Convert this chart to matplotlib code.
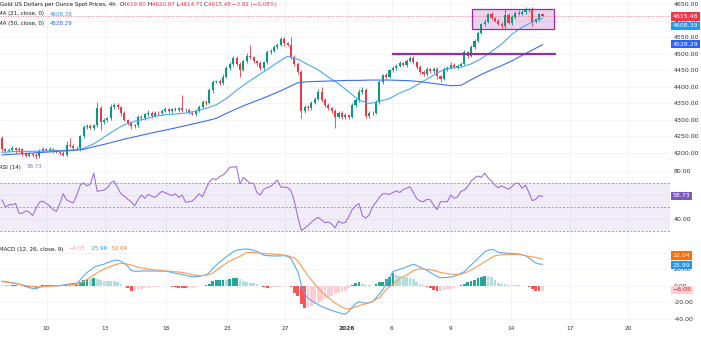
import numpy as np
import matplotlib
matplotlib.use("Agg")
import matplotlib.pyplot as plt
from matplotlib.patches import Rectangle

W, H = 701, 337

# ---- 4h candles (bar 0 = first visible candle) ----
first_open = 4244.0
closes = [4212, 4206, 4210, 4214, 4208, 4212, 4196, 4192, 4198, 4195,
          4190, 4206, 4212, 4208, 4211, 4206, 4204, 4199, 4195, 4225,
          4222, 4216, 4214, 4250, 4278, 4282, 4276, 4285, 4335, 4295,
          4300, 4305, 4340, 4345, 4338, 4320, 4300, 4290, 4282, 4285,
          4310, 4305, 4318, 4322, 4312, 4322, 4320, 4328, 4332, 4326,
          4332, 4330, 4336, 4330, 4331, 4322, 4318, 4328, 4340, 4355,
          4352, 4390, 4415, 4418, 4412, 4430, 4458, 4470, 4488, 4470,
          4452, 4478, 4495, 4490, 4478, 4472, 4458, 4475, 4505, 4510,
          4520, 4528, 4545, 4532, 4528, 4492, 4470, 4445, 4328, 4340,
          4335, 4352, 4365, 4385, 4362, 4345, 4335, 4328, 4310, 4322,
          4308, 4315, 4310, 4345, 4360, 4385, 4392, 4312, 4320, 4322,
          4355, 4415, 4435, 4430, 4450, 4458, 4465, 4472, 4468, 4480,
          4488, 4475, 4462, 4445, 4438, 4455, 4448, 4455, 4432, 4425,
          4455, 4458, 4468, 4462, 4465, 4470, 4505, 4495, 4520, 4540,
          4565, 4590, 4598, 4620, 4608, 4600, 4592, 4584, 4618, 4595,
          4612, 4625, 4622, 4628, 4632, 4635, 4598, 4605, 4619.80, 4615.48]
up_wick = [6, 4, 5, 7, 3, 5, 4, 6, 5, 3,
           4, 6, 5, 3, 7, 4, 5, 3, 6, 12,
           20, 5, 4, 6, 8, 5, 6, 4, 20, 6,
           5, 4, 7, 6, 5, 4, 6, 3, 5, 4,
           6, 5, 4, 7, 5, 6, 4, 5, 7, 4,
           5, 6, 4, 39, 5, 4, 6, 5, 4, 6,
           5, 7, 6, 4, 5, 8, 6, 5, 7, 6,
           5, 6, 8, 32, 5, 4, 6, 5, 7, 5,
           6, 5, 7, 6, 5, 22, 6, 5, 8, 6,
           5, 7, 6, 8, 15, 5, 6, 4, 5, 6,
           5, 6, 4, 7, 6, 8, 8, 5, 6, 4,
           6, 7, 5, 6, 5, 7, 4, 6, 5, 6,
           6, 5, 4, 6, 5, 7, 4, 5, 6, 4,
           6, 5, 7, 4, 5, 6, 7, 5, 6, 5,
           6, 5, 7, 5, 6, 4, 5, 6, 18, 5,
           6, 5, 7, 4, 10, 3, 6, 5, 4, 1.07]
lo_wick = [5, 6, 4, 5, 7, 4, 6, 5, 4, 6,
           8, 5, 4, 6, 5, 7, 4, 6, 5, 4,
           5, 6, 4, 7, 5, 6, 4, 5, 6, 25,
           6, 5, 4, 6, 5, 7, 4, 6, 8, 5,
           5, 6, 4, 5, 7, 4, 6, 5, 4, 6,
           5, 4, 6, 5, 7, 5, 4, 6, 5, 4,
           6, 5, 7, 4, 6, 5, 4, 6, 5, 7,
           22, 5, 6, 4, 5, 7, 6, 5, 4, 6,
           5, 6, 4, 7, 5, 6, 5, 7, 22, 6,
           5, 6, 4, 5, 6, 7, 5, 6, 34, 5,
           6, 5, 7, 4, 5, 6, 5, 5, 6, 5,
           4, 6, 5, 7, 4, 5, 6, 5, 4, 6,
           5, 6, 7, 5, 4, 6, 5, 6, 7, 10,
           5, 6, 4, 5, 6, 5, 4, 6, 5, 4,
           5, 4, 6, 5, 6, 4, 5, 6, 5, 4,
           6, 5, 4, 5, 6, 5, 13, 5, 4, 0.77]

# moving averages, one reading every 3 bars
ma_every = 3
ma21 = [4202, 4204, 4205, 4205, 4206, 4207, 4208, 4209, 4214, 4228,
        4248, 4268, 4286, 4296, 4303, 4311, 4316, 4318, 4321, 4327,
        4335, 4346, 4365, 4390, 4412, 4433, 4453, 4474, 4493, 4484,
        4468, 4452, 4430, 4410, 4385, 4360, 4350, 4356, 4365, 4382,
        4394, 4412, 4430, 4448, 4457, 4460, 4470, 4486, 4508, 4530,
        4560, 4581, 4597, 4608.39]
ma50 = [4194, 4196, 4198, 4200, 4202, 4204, 4206, 4208, 4211, 4219,
        4226, 4234, 4242, 4249, 4256, 4263, 4269, 4276, 4283, 4290,
        4297, 4305, 4320, 4334, 4347, 4359, 4371, 4384, 4398, 4413,
        4416, 4417, 4418, 4419, 4420, 4420, 4421, 4421, 4421, 4420,
        4419, 4416, 4412, 4408, 4404, 4405, 4422, 4438, 4452, 4465,
        4479, 4496, 4512, 4528.29]

rsi = [56, 50, 52, 52, 53, 45, 45, 47, 46, 43,
       49, 54, 55, 53, 51, 48, 46.5, 53, 61, 56,
       54.5, 53.5, 60, 68, 70, 67.5, 69, 78, 63, 63.5,
       64, 66, 70, 71.5, 66, 61, 59, 56.5, 54.5, 51,
       56, 60, 57.3, 60.5, 59, 58, 60.5, 63, 62, 60.5,
       59.5, 61, 58, 60, 54, 54.5, 55, 58, 61, 58.5,
       65, 71, 73.5, 72.5, 75, 76.5, 79, 82.8, 83, 83.3,
       69, 74.5, 72, 69.5, 69.6, 62, 60, 64.7, 66, 67,
       69.5, 72.3, 66.5, 66.3, 66.3, 63.5, 55, 42, 31, 32.5,
       35, 37.5, 40, 41.6, 39.5, 37.2, 37.8, 36, 33, 38.5,
       36.8, 37.5, 42, 48, 51, 53, 43, 41, 43.5, 50.4,
       54, 58, 61, 61, 60.6, 62, 63.5, 62, 64.5, 65.5,
       66.8, 62, 57, 55, 54.5, 56.5, 56, 51.5, 48, 54.5,
       54.5, 54.5, 60, 57.3, 58.5, 63, 64, 67, 71.5, 74,
       75.6, 74.5, 77.9, 74, 71.5, 68, 66, 67.5, 66, 64.7,
       67, 69.6, 69.6, 65.5, 68.2, 62, 55.3, 56.5, 59.5, 58.73]

macd = [5.5, 5, 4.3, 3.6, 3, 2, 0.5, -1, -2.5, -3.3,
        -3.8, -2, -0.5, 0, 0.3, 0.2, 0, 0, 0.8, 1.7,
        2.2, 2.6, 3, 7, 12, 16, 19, 22, 24, 25,
        26, 28, 29.5, 30.8, 31, 29.5, 27, 23.5, 18.5, 17.5,
        17.5, 17.8, 18, 17.8, 17.8, 17.8, 17.8, 17.8, 17.7, 17,
        16, 15, 14.3, 13.8, 12.5, 11.5, 10.9, 11, 11.5, 12.3,
        13, 16, 21, 25, 28.5, 32, 35, 38, 41, 43,
        43.8, 44.3, 44.5, 44, 43, 41.5, 39.5, 37, 36.5, 36.2,
        36, 36, 36.2, 36.4, 35.5, 33, 25, 17, 2, -9,
        -15, -18, -20.5, -23, -25, -27, -28.5, -30, -31.5, -32.5,
        -34, -34.5, -31, -26, -22, -19.4, -20.5, -21.3, -20.5, -19.4,
        -15, -10, -5, 3, 10, 17, 18.5, 20, 21, 23,
        24.5, 26, 24.5, 22.5, 20.5, 18.5, 16, 13.5, 11, 9.7,
        9.8, 10, 10.5, 11.5, 13, 15, 17, 21, 25, 29,
        33, 37, 41, 43, 44, 43, 40.5, 40, 39.8, 39.3,
        39, 38.7, 38.4, 37.5, 36.5, 33.5, 30.5, 27.5, 26.3, 25.99]
signal = [5, 4.5, 4, 3.3, 2.5, 1.8, 1, 0.2, -0.6, -1.2,
          -1.4, -1.3, -1.2, -1, -0.7, -0.4, -0.2, 0, 0.3, 0.6,
          1, 1.4, 1.7, 2.8, 5, 7.5, 10.5, 13, 15.5, 18,
          20, 22, 23.5, 25, 26.2, 27, 26.8, 26, 25, 24,
          22.2, 21.5, 21, 20.3, 19.8, 19.3, 18.8, 18.3, 17.8, 17.5,
          17.2, 16.9, 16.6, 16.2, 15.3, 14.3, 13.3, 12.6, 12.1, 12.3,
          12.7, 13.5, 15.5, 18.5, 21.5, 24.5, 27.5, 30, 32, 33.5,
          35.5, 38, 40, 40.5, 40.3, 39.8, 39.3, 39, 38.7, 38.4,
          38.1, 37.8, 37.5, 37.2, 36.3, 35, 33.5, 30, 24, 18,
          12, 7, 2, -2.5, -7, -11, -14.5, -18, -21, -23.5,
          -26, -27.8, -28.2, -27.2, -25.8, -24.3, -23, -22, -20.8, -19,
          -16.5, -14.5, -10, -5, -1, 1.5, 5, 8.5, 11, 13,
          15.5, 18, 19.8, 20.3, 20.2, 19.7, 19.3, 18.5, 17.3, 16,
          15.2, 14.5, 14, 13.8, 13.8, 14, 15.5, 17, 19, 21.5,
          24, 26.5, 29, 31.5, 34, 36.4, 37, 37.5, 37.8, 38,
          38, 38, 38, 37.3, 36.3, 35.6, 35, 34.2, 33.3, 32.04]

date_labels = ["10", "13", "18", "23", "27", "2026", "6", "9", "14", "17", "20"]
date_bars = [13.1, 30.3, 48.2, 66.2, 83.2, 101.5, 114.7, 131.8, 149.7, 167.1, 184.1]

price_ticks = [4200, 4250, 4300, 4350, 4400, 4450, 4500, 4550, 4600, 4650]
rsi_ticks = [40, 60, 80]
macd_ticks = [-40, -20, 0, 20, 40]

# drawings on the price pane
box_bars, box_prices = (138.4, 162.3), (4575, 4635.5)
level_bars, level_price = (114.6, 163.1), 4500

UP, DN = "#089981", "#f23645"
TXT = "#131722"
PURPLE = "#9c27b0"

n = len(closes)
x = np.arange(n)
c = np.array(closes, float)
o = np.r_[first_open, c[:-1]]
hi = np.maximum(o, c) + np.array(up_wick)
lo = np.minimum(o, c) - np.array(lo_wick)
col = np.where(c >= o, UP, DN)

fig = plt.figure(figsize=(W / 100, H / 100), dpi=100)


def pane(top, bottom):
    return fig.add_axes([0, 1 - bottom / H, 670 / W, (bottom - top) / H])


axp = pane(0, 159)
axr = pane(159, 240)
axm = pane(240, 322)

for ax in (axp, axr, axm):
    ax.set_xlim(-0.59, 196.5)
    for s in ax.spines.values():
        s.set_visible(False)
    ax.yaxis.tick_right()
    ax.tick_params(length=0, labelsize=4.5, labelcolor="#333333", pad=2.5)
    ax.set_xticks(date_bars)
    ax.grid(True, color="#f0f3fa", lw=0.6)
    ax.set_axisbelow(True)
for ax in (axp, axr):
    ax.tick_params(labelbottom=False)
    ax.spines["bottom"].set_visible(True)
    ax.spines["bottom"].set_color("#e0e3eb")
    ax.spines["bottom"].set_linewidth(0.8)

# ---- price pane ----
axp.set_ylim(4181.8, 4663.6)
axp.set_yticks(price_ticks)
axp.set_yticklabels(["%.2f" % v for v in price_ticks])
axp.add_patch(Rectangle((box_bars[0], box_prices[0]), box_bars[1] - box_bars[0],
                        box_prices[1] - box_prices[0], facecolor=PURPLE, alpha=0.2,
                        lw=0, zorder=1))
axp.add_patch(Rectangle((box_bars[0], box_prices[0]), box_bars[1] - box_bars[0],
                        box_prices[1] - box_prices[0], fill=False, edgecolor=PURPLE,
                        lw=0.9, zorder=4))
axp.vlines(x, lo, hi, colors=col, lw=0.6, zorder=2)
axp.bar(x, np.maximum(np.abs(c - o), 0.8), bottom=np.minimum(o, c), width=0.62,
        color=col, lw=0, zorder=2)
xm = np.arange(0, n, ma_every)
axp.plot(xm, ma21, color="#4aa8f5", lw=0.8, zorder=3)
axp.plot(xm, ma50, color="#3d6cf5", lw=0.8, zorder=3)
axp.hlines(level_price, level_bars[0], level_bars[1], color=PURPLE, lw=1.6, zorder=4)
axp.axhline(closes[-1], color=DN, lw=0.6, ls=(0, (1.5, 1.5)), alpha=0.6, zorder=1)

# ---- RSI pane ----
axr.set_ylim(23.0, 89.6)
axr.set_yticks(rsi_ticks)
axr.set_yticklabels(["%.2f" % v for v in rsi_ticks])
axr.axhspan(30, 70, color="#7e57c2", alpha=0.1, lw=0)
for lvl in (70, 50, 30):
    axr.axhline(lvl, color="#9598a1", lw=0.6, ls=(0, (2.5, 2)))
axr.plot(x, rsi, color="#a070dc", lw=0.8)

# ---- MACD pane ----
axm.set_ylim(-44.0, 55.4)
axm.set_yticks(macd_ticks)
# the 40.00 label sits under the signal value tag, as on the chart
axm.set_yticklabels(["" if v == 40 else "%.2f" % v for v in macd_ticks])
hist = np.array(macd) - np.array(signal)
prev = np.r_[hist[0], hist[:-1]]
hcol = np.where(hist >= 0,
                np.where(hist > prev, "#26a69a", "#b2dfdb"),
                np.where(hist < prev, "#ff5252", "#ffcdd2"))
axm.bar(x, hist, width=0.8, color=hcol, lw=0)
axm.plot(x, macd, color="#5aabf2", lw=0.8)
axm.plot(x, signal, color="#f89a55", lw=0.8)
axm.set_xticklabels(date_labels)
axm.tick_params(axis="x", labelsize=4.2, pad=3)
axm.get_xticklabels()[5].set_fontweight("bold")


def tag(ax, y, s, bg, fg="white"):
    ax.text(1.004, y, s, transform=ax.get_yaxis_transform(), ha="left", va="center",
            fontsize=4.5, color=fg, clip_on=False, zorder=10,
            bbox=dict(boxstyle="square,pad=0.3", fc=bg, ec="none"))


tag(axp, 4613, "4615.48", "#f23645")
tag(axp, 4585, "4608.39", "#2196f3")
tag(axp, 4530, "4528.29", "#2962ff")
tag(axr, 59.2, "58.73", "#7e57c2")
tag(axm, 36.4, "32.04", "#ff6d00")
tag(axm, 25.0, "25.99", "#2196f3")
tag(axm, -5.2, "\u22126.05", "#ffcdd2", "#c62828")

renderer = fig.canvas.get_renderer()


def text_row(x0, y, parts, size=4.0):
    xx = x0
    for s, color in parts:
        t = fig.text(xx / W, 1 - y / H, s, color=color, fontsize=size,
                     ha="left", va="center")
        xx += t.get_window_extent(renderer).width


text_row(0, 4.7, [("Gold US Dollars per Ounce Spot Prices, 4h  ", TXT),
                  ("O", TXT), ("4619.80 ", DN), ("H", TXT), ("4620.87 ", DN),
                  ("L", TXT), ("4614.71 ", DN), ("C", TXT), ("4615.48 ", DN),
                  ("\u22123.82 (\u22120.08%)", DN)])
text_row(-1.5, 14, [("MA (21, close, 0)   ", TXT), ("4608.39", "#2196f3")])
text_row(-1.5, 23.3, [("MA (50, close, 0)   ", TXT), ("4528.29", "#2962ff")])
text_row(-1, 167, [("RSI (14)   ", TXT), ("58.73", "#9575cd")])
text_row(-1, 249, [("MACD (12, 26, close, 9)   ", TXT), ("\u22126.05", "#f7a1a8"),
                   ("   25.99", "#2196f3"), ("   32.04", "#ff6d00")])

fig.savefig("out.png", dpi=100, facecolor="white")
